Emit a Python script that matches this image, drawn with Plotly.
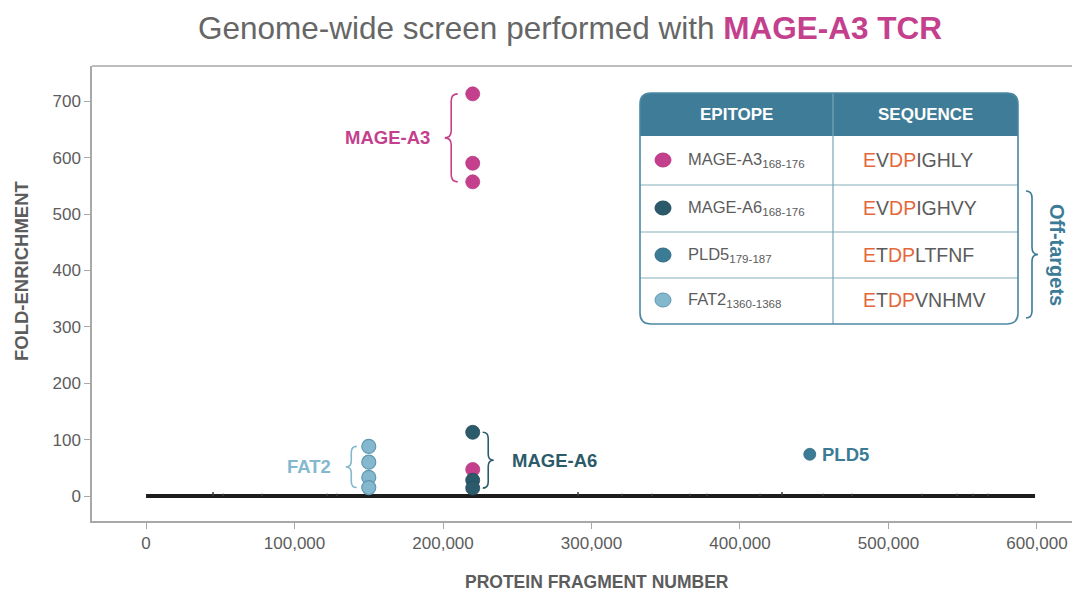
import plotly.graph_objects as go

# ---------------- data ----------------
mage_a3_fragment = [220000, 220000, 220000, 220000]
mage_a3_fold = [713, 590, 557, 47]
mage_a6_fragment = [220000, 220000, 220000]
mage_a6_fold = [113, 28, 14]
pld5_fragment = [447000]
pld5_fold = [74]
fat2_fragment = [150000, 150000, 150000, 150000]
fat2_fold = [88, 60, 33, 15]

baseline_fragment = [0, 598700]
baseline_fold = [0, 0]
spike_fragment = [45100, 51900, 78100, 121900, 128600, 290900, 320500, 340700,
                  366300, 377800, 413500, 428300, 455900, 475400, 522600,
                  546100, 556900, 567000]
spike_fold = [7, 4, 4, 4, 4, 7, 4, 4, 4, 4, 4, 7, 4, 4, 4, 4, 4, 4]

x_tick_values = [0, 100000, 200000, 300000, 400000, 500000, 600000]
x_tick_labels = ["0", "100,000", "200,000", "300,000", "400,000", "500,000", "600,000"]
y_tick_values = [0, 100, 200, 300, 400, 500, 600, 700]
y_tick_labels = ["0", "100", "200", "300", "400", "500", "600", "700"]

epitope_names = ["MAGE-A3", "MAGE-A6", "PLD5", "FAT2"]
epitope_ranges = ["168-176", "168-176", "179-187", "1360-1368"]
epitope_sequences = ["EVDPIGHLY", "EVDPIGHVY", "ETDPLTFNF", "ETDPVNHMV"]
highlight_positions = [0, 2, 3]

# ---------------- style ----------------
C_A3 = "#c4408d"
C_A6 = "#2b5a6a"
C_PLD5 = "#3b7b96"
C_FAT2 = "#84b8ce"
C_HEAD = "#3f7c97"
C_ORANGE = "#e4673b"
C_TEXT = "#5c5c5c"
FONT = "Liberation Sans, Arial, sans-serif"

W, H = 1072, 592
PL, PR, PT, PB = 92, 1072, 66, 521          # plot area in pixels
X_RANGE = [-36400, 623600]
Y_RANGE = [-44.3, 762.4]

def dx(px):
    return px * (X_RANGE[1] - X_RANGE[0]) / (PR - PL)

def dy(px):
    return px * (Y_RANGE[1] - Y_RANGE[0]) / (PB - PT)

def PX(px):
    return (px - PL) / (PR - PL)

def PY(py):
    return (PB - py) / (PB - PT)

def brace(x_edge, y_low, y_high, w, r, direction):
    # direction -1: "{" (tip left), +1: "}" (tip right)
    xm = x_edge + direction * w / 2
    xt = x_edge + direction * w
    ym = (y_low + y_high) / 2
    return (f"M {x_edge},{y_high} Q {xm},{y_high} {xm},{y_high - r} "
            f"L {xm},{ym + r} Q {xm},{ym} {xt},{ym} Q {xm},{ym} {xm},{ym - r} "
            f"L {xm},{y_low + r} Q {xm},{y_low} {x_edge},{y_low}")

def note(x, y, text, size, color, xanchor="center", yanchor="middle", ref="paper", angle=0):
    return dict(x=x, y=y, xref="x" if ref == "data" else "paper", yref="y" if ref == "data" else "paper",
                text=text, showarrow=False, xanchor=xanchor, yanchor=yanchor, textangle=angle,
                font=dict(family=FONT, size=size, color=color))

fig = go.Figure()

# baseline of all fragments
fig.add_trace(go.Scatter(x=baseline_fragment, y=baseline_fold, mode="lines",
                         line=dict(color="#1d1d1d", width=4), showlegend=False,
                         hoverinfo="skip"))
sx, sy = [], []
for f, v in zip(spike_fragment, spike_fold):
    sx += [f, f, None]
    sy += [0, v, None]
fig.add_trace(go.Scatter(x=sx, y=sy, mode="lines", line=dict(color="#3a3a3a", width=1.5),
                         showlegend=False, hoverinfo="skip"))

fig.add_trace(go.Scatter(x=fat2_fragment, y=fat2_fold, mode="markers", name="FAT2",
                         marker=dict(color=C_FAT2, size=14, line=dict(color="#5f97b0", width=1.2))))
fig.add_trace(go.Scatter(x=mage_a3_fragment, y=mage_a3_fold, mode="markers", name="MAGE-A3",
                         marker=dict(color=C_A3, size=14, line=dict(color="#b83a84", width=0.8))))
fig.add_trace(go.Scatter(x=mage_a6_fragment, y=mage_a6_fold, mode="markers", name="MAGE-A6",
                         marker=dict(color=C_A6, size=14, line=dict(color="#244e5c", width=0.8))))
fig.add_trace(go.Scatter(x=pld5_fragment, y=pld5_fold, mode="markers", name="PLD5",
                         marker=dict(color=C_PLD5, size=12, line=dict(color="#336c84", width=0.8))))

shapes = []
annotations = []
ANN = 18.5

# ---- group braces and labels (data coordinates) ----
a3_peak = [v for v in mage_a3_fold if v > 200]
a3_x = mage_a3_fragment[0]
shapes.append(dict(type="path", xref="x", yref="y",
                   path=brace(a3_x - dx(15), min(a3_peak), max(a3_peak), dx(13), dy(7), -1),
                   line=dict(color=C_A3, width=1.6)))
annotations.append(note(a3_x - dx(41), (min(a3_peak) + max(a3_peak)) / 2, "<b>MAGE-A3</b>", ANN, C_A3,
                        xanchor="right", ref="data"))

a6_x = mage_a6_fragment[0]
shapes.append(dict(type="path", xref="x", yref="y",
                   path=brace(a6_x + dx(10), min(mage_a6_fold), max(mage_a6_fold), dx(11), dy(6), 1),
                   line=dict(color=C_A6, width=1.6)))
annotations.append(note(a6_x + dx(37), (min(mage_a6_fold) + max(mage_a6_fold)) / 2, "<b>MAGE-A6</b>", ANN, C_A6,
                        xanchor="left", ref="data"))

f2_x = fat2_fragment[0]
shapes.append(dict(type="path", xref="x", yref="y",
                   path=brace(f2_x - dx(12), min(fat2_fold), max(fat2_fold), dx(11), dy(6), -1),
                   line=dict(color=C_FAT2, width=1.6)))
annotations.append(note(f2_x - dx(36), (min(fat2_fold) + max(fat2_fold)) / 2, "<b>FAT2</b>", ANN, C_FAT2,
                        xanchor="right", ref="data"))

annotations.append(note(pld5_fragment[0] + dx(10), pld5_fold[0], "<b>PLD5</b>", ANN, C_PLD5,
                        xanchor="left", ref="data"))

# ---- table (paper coordinates) ----
TX0, TX1, TY0, TY1, TR = 640, 1018, 93, 324, 11
HEAD_B = 136
COL = 833
ROW_LINES = [185, 232, 278]
ROW_CENTERS = [160, 208, 255, 300]
rx, ry = TR / (PR - PL), TR / (PB - PT)

def rounded_rect(x0, x1, top, bottom, rt=True, rb=True):
    X0, X1, YT, YB = PX(x0), PX(x1), PY(top), PY(bottom)
    p = f"M {X0 + rx},{YT} L {X1 - rx},{YT} Q {X1},{YT} {X1},{YT - ry} " if rt else f"M {X0},{YT} L {X1},{YT} "
    p += f"L {X1},{YB + ry} Q {X1},{YB} {X1 - rx},{YB} L {X0 + rx},{YB} Q {X0},{YB} {X0},{YB + ry} " if rb else f"L {X1},{YB} L {X0},{YB} "
    p += f"L {X0},{YT - ry} Q {X0},{YT} {X0 + rx},{YT} Z" if rt else f"L {X0},{YT} Z"
    return p

shapes.append(dict(type="path", xref="paper", yref="paper", path=rounded_rect(TX0, TX1, TY0, TY1),
                   fillcolor="white", line=dict(width=0)))
shapes.append(dict(type="path", xref="paper", yref="paper", path=rounded_rect(TX0, TX1, TY0, HEAD_B, True, False),
                   fillcolor=C_HEAD, line=dict(width=0)))
for yl in ROW_LINES:
    shapes.append(dict(type="line", xref="paper", yref="paper", x0=PX(TX0), x1=PX(TX1), y0=PY(yl), y1=PY(yl),
                       line=dict(color="#86aebe", width=1.2)))
shapes.append(dict(type="line", xref="paper", yref="paper", x0=PX(COL), x1=PX(COL), y0=PY(TY0), y1=PY(TY1),
                   line=dict(color="#7aa5b7", width=1.2)))
shapes.append(dict(type="path", xref="paper", yref="paper", path=rounded_rect(TX0, TX1, TY0, TY1),
                   line=dict(color="#4b88a2", width=1.6)))

annotations.append(note(PX((TX0 + COL) / 2), PY((TY0 + HEAD_B) / 2), "<b>EPITOPE</b>", 17, "white"))
annotations.append(note(PX((COL + TX1) / 2), PY((TY0 + HEAD_B) / 2), "<b>SEQUENCE</b>", 17, "white"))

row_colors = [C_A3, C_A6, C_PLD5, C_FAT2]
row_edges = ["#b83a84", "#244e5c", "#336c84", "#5f97b0"]
CR = 8
for name, rng, seq, col, edge, cy in zip(epitope_names, epitope_ranges, epitope_sequences,
                                        row_colors, row_edges, ROW_CENTERS):
    shapes.append(dict(type="circle", xref="paper", yref="paper",
                       x0=PX(663 - CR), x1=PX(663 + CR), y0=PY(cy + CR - 1), y1=PY(cy - CR + 1),
                       fillcolor=col, line=dict(color=edge, width=1)))
    annotations.append(note(PX(686), PY(cy), f"{name}<sub>{rng}</sub>", 16.5, C_TEXT, xanchor="left"))
    seq_html = "".join(f"<span style='color:{C_ORANGE}'>{ch}</span>" if i in highlight_positions else ch
                       for i, ch in enumerate(seq))
    annotations.append(note(PX(861), PY(cy), seq_html, 19.5, C_TEXT, xanchor="left"))

# off-targets brace
shapes.append(dict(type="path", xref="paper", yref="paper",
                   path=brace(PX(1026), PY(318), PY(191), 12 / (PR - PL), 7 / (PB - PT), 1),
                   line=dict(color=C_PLD5, width=1.6)))
annotations.append(note(PX(1057), PY(255), "<b>Off-targets</b>", 20, C_PLD5, angle=90))

# frame top line
shapes.append(dict(type="line", xref="paper", yref="paper", x0=0, x1=1, y0=1, y1=1,
                   line=dict(color="#a8a8a8", width=1.5)))

# axis titles
annotations.append(note(PX(597), PY(582), "<b>PROTEIN FRAGMENT NUMBER</b>", 17.5, C_TEXT))
annotations.append(note(PX(21), PY(271), "<b>FOLD-ENRICHMENT</b>", 18.5, C_TEXT, angle=-90))

fig.update_layout(
    width=W, height=H,
    margin=dict(l=PL, r=W - PR, t=PT, b=H - PB, autoexpand=False),
    paper_bgcolor="white", plot_bgcolor="white",
    showlegend=False,
    title=dict(text=f"Genome-wide screen performed with <b><span style='color:{C_A3}'>MAGE-A3 TCR</span></b>",
               x=570 / W, xanchor="center", y=1 - 28 / H, yanchor="middle",
               font=dict(family=FONT, size=31.5, color="#666666")),
    font=dict(family=FONT, color=C_TEXT),
    shapes=shapes, annotations=annotations,
)
fig.update_xaxes(range=X_RANGE, tickvals=x_tick_values, ticktext=x_tick_labels, showgrid=False, zeroline=False,
                 showline=True, linecolor="#a8a8a8", linewidth=1.5, ticks="outside", ticklen=6,
                 tickcolor="#a8a8a8", tickfont=dict(family=FONT, size=17, color=C_TEXT))
fig.update_yaxes(range=Y_RANGE, tickvals=y_tick_values, ticktext=y_tick_labels, showgrid=False, zeroline=False,
                 showline=True, linecolor="#a8a8a8", linewidth=1.5, ticks="outside", ticklen=6,
                 tickcolor="#a8a8a8", tickfont=dict(family=FONT, size=17, color=C_TEXT))

fig.write_html("out.html", config={"displayModeBar": False},
               post_script="document.body.style.margin='0';document.body.style.overflow='hidden';")
